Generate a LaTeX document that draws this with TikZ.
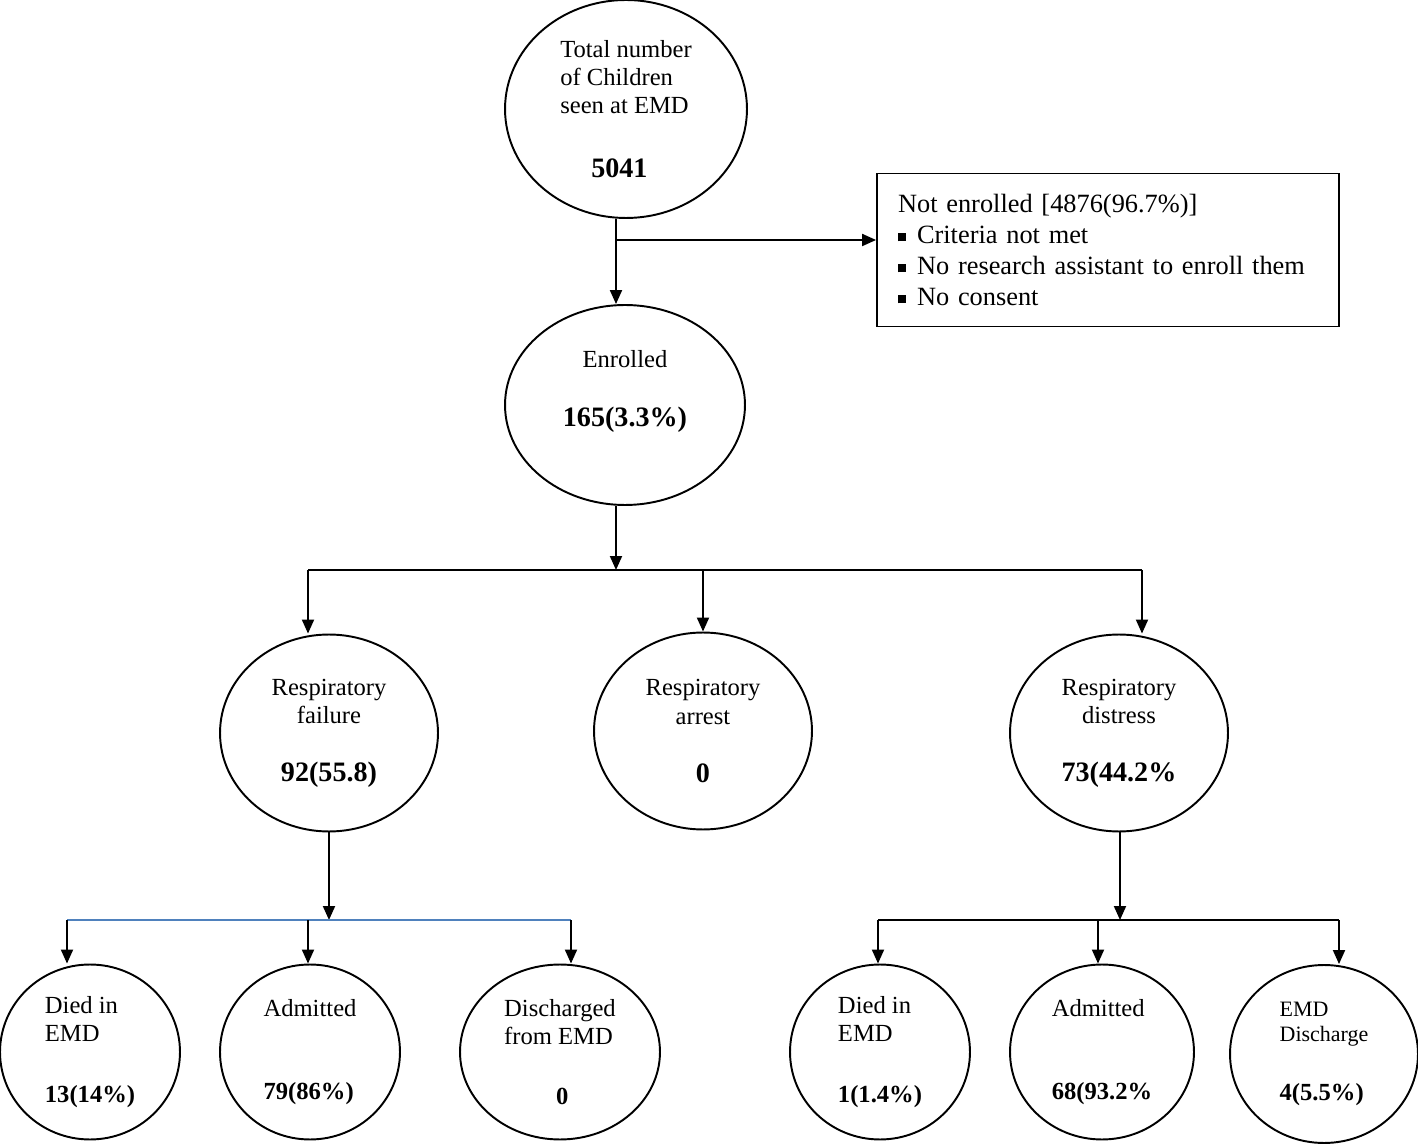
\documentclass[tikz,border=0pt]{standalone}
\usepackage{fontspec}
\setmainfont{Liberation Serif}
\usepackage{xcolor}
\usetikzlibrary{shapes,arrows.meta,positioning}
\definecolor{lineblue}{RGB}{79,129,189}
\newcommand{\bnum}[1]{{\fontsize{16}{18}\selectfont\bfseries #1}}
\newcommand{\snum}[1]{{\fontsize{14}{16}\selectfont\bfseries #1}}
\newcommand{\sqbul}{\raisebox{0.08em}{\rule{0.16cm}{0.16cm}}\hspace{0.22cm}}

\begin{document}
\begin{tikzpicture}[x=0.02cm, y=-0.02cm]
\tikzstyle{ell} = [ellipse, draw, line width=1.1pt, inner sep=0pt, font=\fontsize{14}{16}\selectfont]
\tikzstyle{box} = [rectangle, draw, line width=1.1pt, minimum width=9.24cm, minimum height=3.06cm, text width=8.4cm, inner xsep=0.42cm, align=left, font=\fontsize{15}{17.6}\selectfont]
\tikzstyle{line} = [draw, line width=1.1pt, -{Triangle[length=0.28cm, width=0.24cm]}]
\useasboundingbox (0,0) rectangle (1418,1145);

% top
\node [ell, minimum width=4.84cm, minimum height=4.36cm, align=left] (total) at (626,109) {Total number\\of Children\\seen at EMD\\[0.7cm]\hspace*{0.62cm}\bnum{5041}};
\node [box] (notenr) at (1108,250) {Not enrolled [4876(96.7\%)]\\\sqbul Criteria not met\\\sqbul No research assistant to enroll them\\\sqbul No consent};
\node [ell, minimum width=4.8cm, minimum height=4cm, align=center] (enrolled) at (625,405) {Enrolled\\[0.6cm]\bnum{165(3.3\%)}\\[0.1cm]\mbox{}};

% middle
\node [ell, minimum width=4.36cm, minimum height=3.94cm, align=center] (fail) at (329,733) {Respiratory\\failure\\[0.6cm]\bnum{92(55.8)}};
\node [ell, minimum width=4.36cm, minimum height=3.94cm, align=center] (arrest) at (703,731) {Respiratory\\arrest\\[0.6cm]\bnum{0}};
\node [ell, minimum width=4.36cm, minimum height=3.94cm, align=center] (distress) at (1119,733) {Respiratory\\distress\\[0.6cm]\bnum{73(44.2\%}};

% bottom
\node [ell, minimum width=3.6cm, minimum height=3.5cm, align=left] (died1) at (90,1052) {Died in\\EMD\\[0.64cm]\snum{13(14\%)}};
\node [ell, minimum width=3.6cm, minimum height=3.5cm, align=left] (adm1) at (310,1052) {Admitted\\[1.1cm]\snum{79(86\%)}};
\node [ell, minimum width=4cm, minimum height=3.5cm, align=left] (disch1) at (560,1052) {Discharged\\from EMD\\[0.64cm]\hspace*{1.04cm}\snum{0}};
\node [ell, minimum width=3.6cm, minimum height=3.5cm, align=left] (died2) at (880,1052) {Died in\\EMD\\[0.64cm]\snum{1(1.4\%)}};
\node [ell, minimum width=3.68cm, minimum height=3.5cm, align=left] (adm2) at (1102,1052) {Admitted\\[1.1cm]\snum{68(93.2\%}};
\node [ell, minimum width=3.76cm, minimum height=3.56cm, align=left, font=\fontsize{12.5}{14}\selectfont] (disch2) at (1324,1054) {EMD\\Discharge\\[0.68cm]\snum{4(5.5\%)}};

% connectors
\coordinate (c1) at (616,240);
\coordinate (fork) at (616,570);
\coordinate (f1) at (308,570);
\coordinate (f3) at (1142,570);
\path [line] (total.south -| c1) -- (enrolled.north -| c1);
\path [line] (c1) -- (c1 -| notenr.west);
\path [line] (enrolled.south -| fork) -- (fork);
\draw [line width=1.1pt] (f1) -- (f3);
\path [line] (f1) -- (f1 |- fail.north);
\path [line] (fork -| arrest.north) -- (arrest.north);
\path [line] (f3) -- (f3 |- distress.north);

\coordinate (lsplit) at (329,920);
\coordinate (l1) at (67,920);
\coordinate (l2) at (308,920);
\coordinate (l3) at (571,920);
\path [line] (fail.south) -- (lsplit);
\draw [line width=1.1pt, lineblue] (l1) -- (l3);
\path [line] (l1) -- (l1 |- died1.north);
\path [line] (l2) -- (l2 |- adm1.north);
\path [line] (l3) -- (l3 |- disch1.north);

\coordinate (rsplit) at (1120,920);
\coordinate (r1) at (878,920);
\coordinate (r2) at (1098,920);
\coordinate (r3) at (1339,920);
\path [line] (distress.south -| rsplit) -- (rsplit);
\draw [line width=1.1pt] (r1) -- (r3);
\path [line] (r1) -- (r1 |- died2.north);
\path [line] (r2) -- (r2 |- adm2.north);
\path [line] (r3) -- (r3 |- disch2.north);
\end{tikzpicture}
\end{document}
